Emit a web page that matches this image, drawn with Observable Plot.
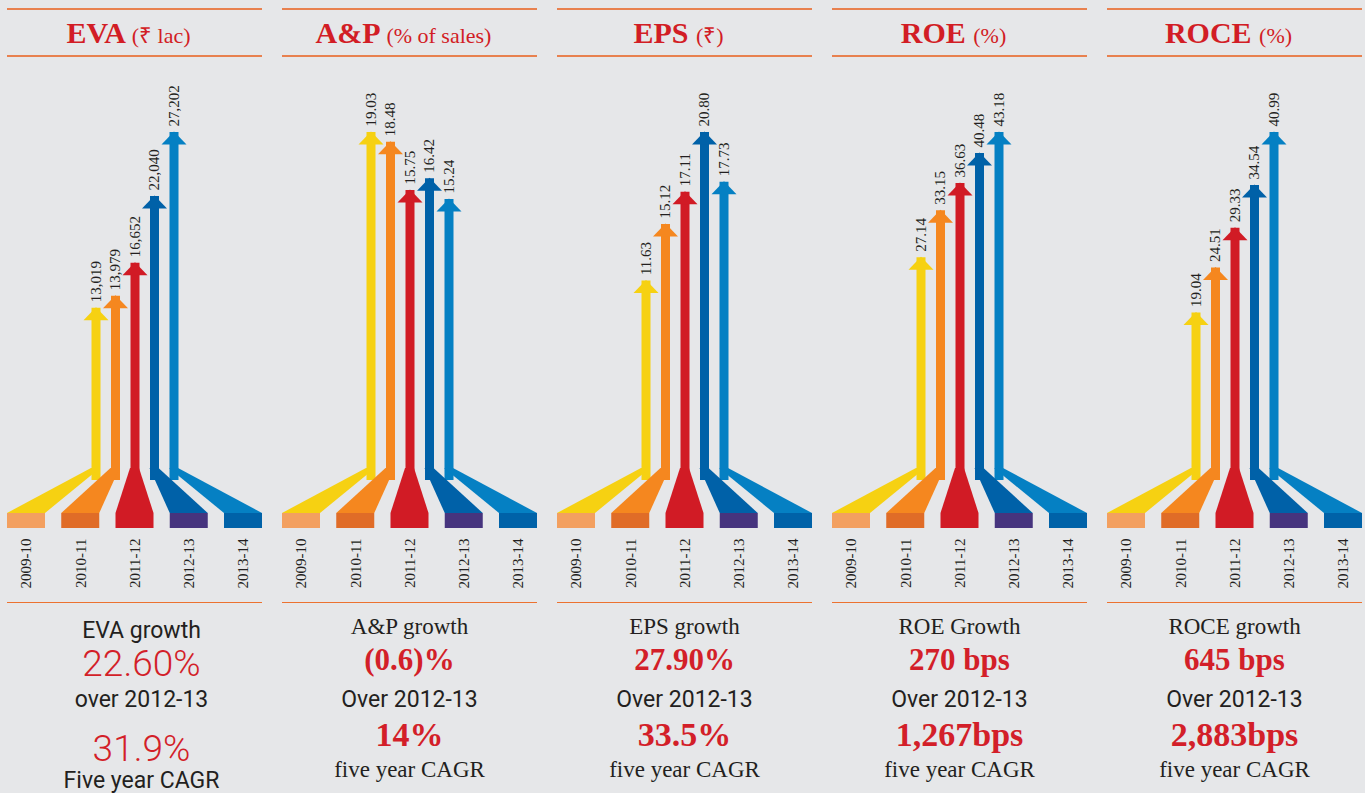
<!DOCTYPE html>
<html><head><meta charset="utf-8">
<script src="https://cdn.jsdelivr.net/npm/d3@7"></script>
<script src="https://cdn.jsdelivr.net/npm/@observablehq/plot@0.6"></script>
<style>
html,body{margin:0;padding:0;background:#e6e7e9;width:1365px;height:793px;overflow:hidden;}
.panel{position:absolute;top:0;width:255px;height:793px;}
.rule{position:absolute;left:0;width:255px;}
.title{position:absolute;left:-16px;width:275px;text-align:center;white-space:nowrap;color:#d21d25;font-family:"Liberation Serif",serif;line-height:30px;font-size:30px;font-weight:bold;}
.title .unit{font-size:22px;font-weight:normal;}
.chart{position:absolute;left:0;}
.chart svg{display:block;overflow:visible;}
.t{position:absolute;left:-10px;width:275px;text-align:center;white-space:nowrap;}
</style></head><body>
<script>
// ---- data ----
const years = ["2009-10","2010-11","2011-12","2012-13","2013-14"];
const evaValues  = [13019, 13979, 16652, 22040, 27202];
const apValues   = [19.03, 18.48, 15.75, 16.42, 15.24];
const epsValues  = [11.63, 15.12, 17.11, 20.80, 17.73];
const roeValues  = [27.14, 33.15, 36.63, 40.48, 43.18];
const roceValues = [19.04, 24.51, 29.33, 34.54, 40.99];

const metricNames = ["EVA", "A&P", "EPS", "ROE", "ROCE"];
const metricUnits = ["(₹ lac)", "(% of sales)", "(₹)", "(%)", "(%)"];
const growthLabels = ["EVA growth", "A&P growth", "EPS growth", "ROE Growth", "ROCE growth"];
const growthValues = ["22.60%", "(0.6)%", "27.90%", "270 bps", "645 bps"];
const periodLabels = ["over 2012-13", "Over 2012-13", "Over 2012-13", "Over 2012-13", "Over 2012-13"];
const cagrValues   = ["31.9%", "14%", "33.5%", "1,267bps", "2,883bps"];
const cagrLabels   = ["Five year CAGR", "five year CAGR", "five year CAGR", "five year CAGR", "five year CAGR"];

const stemColors = ["#f6d112", "#f5871f", "#d11b25", "#0061a8", "#0580c3"];
const baseColors = ["#f3a060", "#e06c27", "#d11b25", "#46347e", "#0062a8"];

// ---- layout / style ----
const seriesValues = [evaValues, apValues, epsValues, roeValues, roceValues];
const formats = [d3.format(","), d3.format(".2f"), d3.format(".2f"), d3.format(".2f"), d3.format(".2f")];
const PANEL_W = 255, PANEL_STEP = 275, PANEL_X0 = 7;
const SLOT_PX = (PANEL_W - 38) / 4;          // px per year slot on the base row
const STEM_SPREAD = 19.5 / SLOT_PX;           // stems are bunched toward centre
const STEM_HALF = 4.5 / SLOT_PX;
const BASE_HALF = 19 / SLOT_PX;
const SERIF = "Liberation Serif, serif";
const SANS = "Roboto, Liberation Sans, sans-serif";
const RED = "#d31f29", INK = "#231f20";

const stemX = d => 2 + (d.i - 2) * STEM_SPREAD;
const arrowHead = {draw(ctx) { ctx.moveTo(0, 0); ctx.lineTo(12.5, 13); ctx.lineTo(-12.5, 13); ctx.closePath(); }};

function arrowChart(values, fmt) {
  const rows = values.map((v, i) => ({i, v, label: fmt(v)}));
  return Plot.plot({
    width: PANEL_W, height: 408,
    marginTop: 71, marginBottom: 0, marginLeft: 19, marginRight: 19,
    x: {domain: [0, 4], axis: null},
    y: {domain: [0, d3.max(values)], axis: null},
    color: {type: "identity"},
    style: {background: "transparent", overflow: "visible"},
    marks: [
      Plot.ruleX(rows, {x: stemX, y1: 0, y2: "v", stroke: d => stemColors[d.i], strokeWidth: 9, insetTop: 12, insetBottom: -1}),
      Plot.dot(rows, {x: stemX, y: "v", r: 1, symbol: arrowHead, fill: d => stemColors[d.i], stroke: "none"}),
      Plot.text(rows, {x: stemX, y: "v", text: "label", rotate: -90, textAnchor: "start", dy: -5,
        fontSize: 15, fontFamily: SERIF, fill: INK})
    ]
  });
}

function baseChart() {
  const rows = years.map((year, i) => ({i, year}));
  const fan = rows.flatMap(d => [
    {i: d.i, stage: 0, left: stemX(d) - STEM_HALF, right: stemX(d) + STEM_HALF},
    {i: d.i, stage: 3, left: d.i - BASE_HALF, right: d.i + BASE_HALF}
  ]);
  return Plot.plot({
    width: PANEL_W, height: 134,
    marginTop: 0, marginBottom: 74, marginLeft: 19, marginRight: 19,
    x: {domain: [0, 4], axis: null},
    y: {domain: [0, 4], reverse: true, axis: null},
    color: {type: "identity"},
    style: {background: "transparent", overflow: "visible"},
    marks: [
      Plot.areaX(fan, {y: "stage", x1: "left", x2: "right", z: "i", fill: d => stemColors[d.i]}),
      Plot.rect(rows, {x1: d => d.i - BASE_HALF, x2: d => d.i + BASE_HALF, y1: 3, y2: 4, fill: d => baseColors[d.i]}),
      Plot.text(rows, {x: "i", y: 4, text: "year", rotate: -90, textAnchor: "end", dy: 10,
        fontSize: 15, fontFamily: SERIF, fill: INK})
    ]
  });
}

function addText(panel, text, baseline, size, family, color, weight, shift) {
  const ratio = family === SERIF ? 0.8375 : 0.842;
  const el = document.createElement("div");
  el.className = "t";
  el.textContent = text;
  Object.assign(el.style, {
    top: (baseline - ratio * size) + "px", fontSize: size + "px", lineHeight: size + "px",
    fontFamily: family, color, fontWeight: weight || "normal", left: (-10 + (shift || 0)) + "px"
  });
  panel.appendChild(el);
}

metricNames.forEach((name, k) => {
  const panel = document.createElement("div");
  panel.className = "panel";
  panel.style.left = (PANEL_X0 + PANEL_STEP * k) + "px";
  document.body.appendChild(panel);

  const r1 = document.createElement("div"); r1.className = "rule";
  Object.assign(r1.style, {top: "8px", height: "2px", background: "#e8814f"});
  const r2 = document.createElement("div"); r2.className = "rule";
  Object.assign(r2.style, {top: "55px", height: "2px", background: "#e8814f"});
  const r3 = document.createElement("div"); r3.className = "rule";
  Object.assign(r3.style, {top: "601.5px", height: "1.5px", background: "#ec7230"});
  panel.append(r1, r2, r3);

  const title = document.createElement("div");
  title.className = "title";
  title.style.top = "18px";
  title.append(document.createTextNode(name + " "));
  const unit = document.createElement("span");
  unit.className = "unit";
  unit.textContent = metricUnits[k];
  title.append(unit);
  panel.append(title);

  const c1 = document.createElement("div"); c1.className = "chart"; c1.style.top = "60px";
  c1.append(arrowChart(seriesValues[k], formats[k]));
  const c2 = document.createElement("div"); c2.className = "chart"; c2.style.top = "468px";
  c2.append(baseChart());
  panel.append(c1, c2);

  if (k === 0) {
    addText(panel, growthLabels[k], 638, 23, SANS, INK, null, 7);
    addText(panel, growthValues[k], 676, 37, SANS, RED, 300, 7);
    addText(panel, periodLabels[k], 707, 23, SANS, INK, null, 7);
    addText(panel, cagrValues[k], 761, 37, SANS, RED, 300, 7);
    addText(panel, cagrLabels[k], 788, 23, SANS, INK, null, 7);
  } else {
    addText(panel, growthLabels[k], 634, 23, SERIF, INK);
    addText(panel, growthValues[k], 670, 31, SERIF, RED, "bold");
    addText(panel, periodLabels[k], 707, 23, SANS, INK);
    addText(panel, cagrValues[k], 746, 34, SERIF, RED, "bold");
    addText(panel, cagrLabels[k], 777, 23, SERIF, INK);
  }
});
</script>
</body></html>
